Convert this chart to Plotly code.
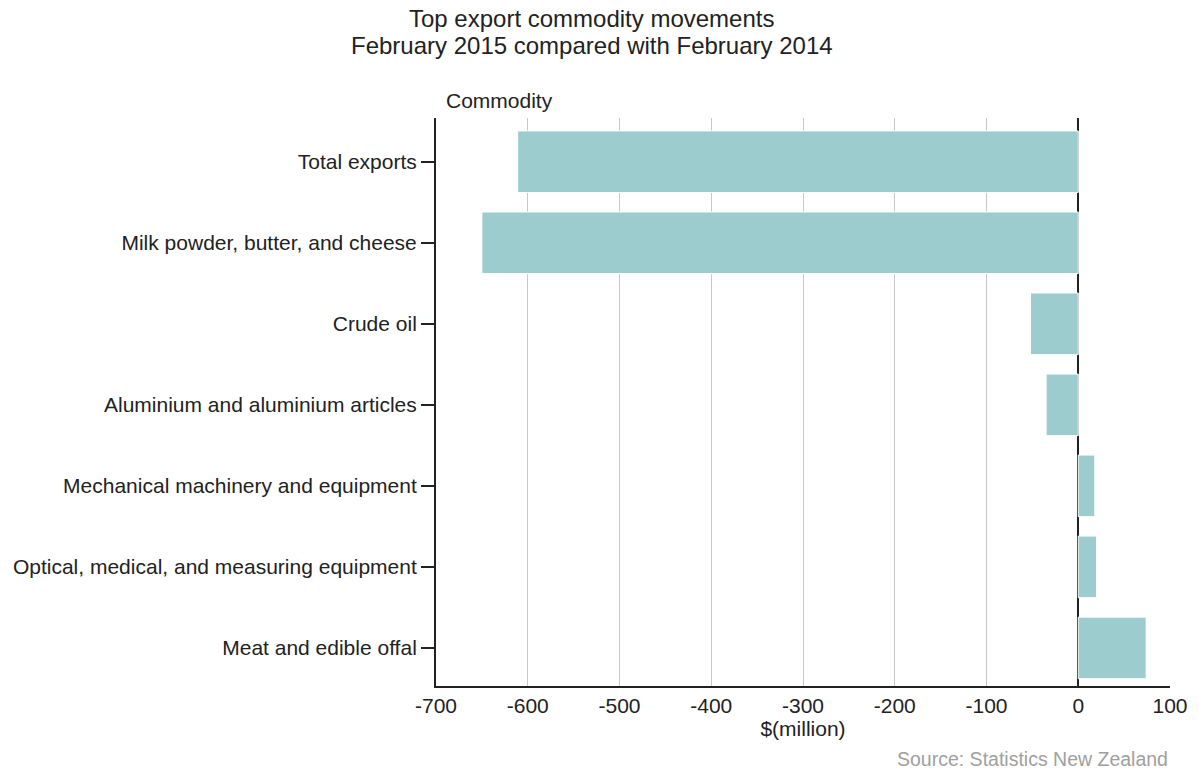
import plotly.graph_objects as go

categories = [
    "Total exports",
    "Milk powder, butter, and cheese",
    "Crude oil",
    "Aluminium and aluminium articles",
    "Mechanical machinery and equipment",
    "Optical, medical, and measuring equipment",
    "Meat and edible offal",
]
values = [-611, -650, -52, -35, 18, 20, 74]
x_ticks = [-700, -600, -500, -400, -300, -200, -100, 0, 100]
x_ticktext = ["-700", "-600", "-500", "-400", "-300", "-200", "-100", "0", "100"]
title_lines = ["Top export commodity movements", "February 2015 compared with February 2014"]

fig = go.Figure()
fig.add_trace(go.Bar(
    x=values, y=categories, orientation="h",
    marker=dict(color="#9ccccd", line=dict(color="#ffffff", width=1)),
    width=0.76,
))

font = "Liberation Sans, Arial, sans-serif"
annotations = [
    dict(text=title_lines[0], xref="paper", yref="paper", x=0.2125, y=1.176,
         xanchor="center", yanchor="middle", showarrow=False,
         font=dict(size=24, color="#222222")),
    dict(text=title_lines[1], xref="paper", yref="paper", x=0.2125, y=1.1268,
         xanchor="center", yanchor="middle", showarrow=False,
         font=dict(size=24, color="#222222")),
    dict(text="Commodity", xref="paper", yref="paper", x=0.011, y=1.0,
         xanchor="left", yanchor="bottom", yshift=4, showarrow=False,
         font=dict(size=21, color="#222222")),
    dict(text="Source: Statistics New Zealand", xref="paper", yref="paper",
         x=1.0, y=0, xanchor="right", yanchor="top", yshift=-60,
         showarrow=False, font=dict(size=19.5, color="#a0a0a0")),
]

fig.update_layout(
    width=1199, height=772,
    margin=dict(l=436, r=29, t=118, b=86, autoexpand=False),
    plot_bgcolor="white", paper_bgcolor="white",
    font=dict(family=font, size=21, color="#222222"),
    showlegend=False,
    xaxis=dict(
        range=[-700, 100], tickvals=x_ticks, ticktext=x_ticktext,
        showgrid=True, gridcolor="#c8c8c8", gridwidth=1,
        zeroline=True, zerolinecolor="#222222", zerolinewidth=2,
        showline=True, linecolor="#222222", linewidth=2,
        ticks="", tickfont=dict(size=21),
        title=dict(text="$(million)", font=dict(size=21), standoff=4),
    ),
    yaxis=dict(
        range=[6.47, -0.54],
        showgrid=False, zeroline=False,
        showline=True, linecolor="#222222", linewidth=2,
        ticks="outside", ticklen=13, tickcolor="#222222", tickwidth=1.5,
        tickfont=dict(size=21),
    ),
    annotations=annotations,
)

fig.write_html("out.html", config={"displayModeBar": False},
               post_script="document.body.style.margin='0px';document.body.style.overflow='hidden';")
